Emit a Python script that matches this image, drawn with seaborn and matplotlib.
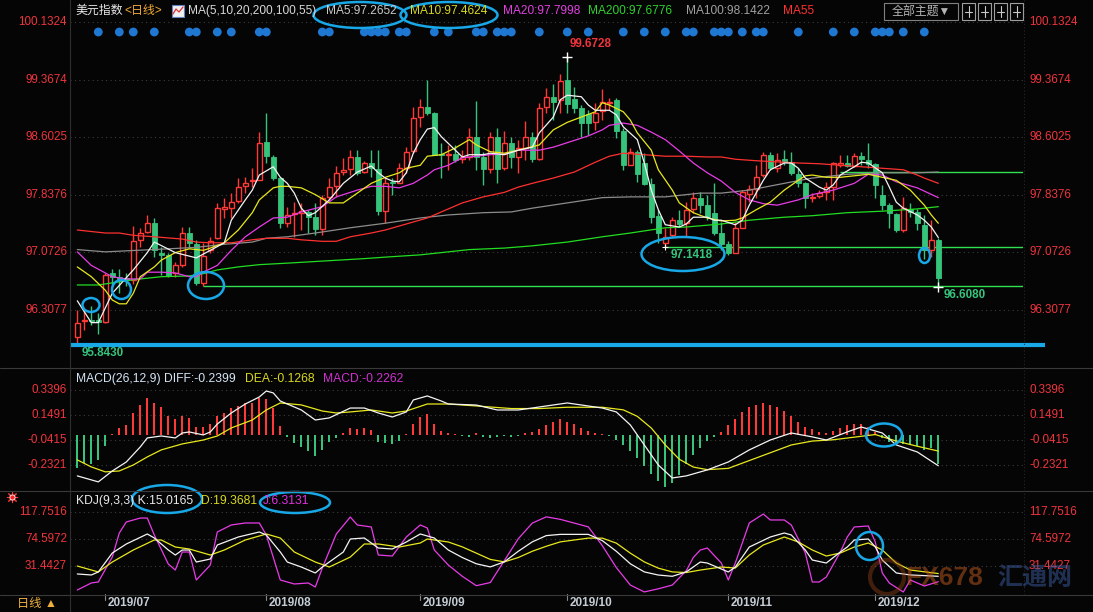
import numpy as np
import pandas as pd
import seaborn as sns
import matplotlib.pyplot as plt
from matplotlib.patches import Ellipse, Rectangle

# ---- data (daily USD index, 2019/06/25 - 2019/12/13) ----
open_ = [95.95, 96.16, 96.18, 96.17, 96.15, 96.80, 96.74, 96.73, 96.70, 97.24,
         97.34, 97.46, 97.07, 97.04, 96.80, 96.90, 97.33, 97.19, 96.67, 97.10,
         97.26, 97.65, 97.66, 97.75, 97.96, 98.02, 98.03, 98.54, 98.34, 98.06,
         97.46, 97.58, 97.60, 97.61, 97.54, 97.39, 97.81, 97.96, 98.14, 98.18,
         98.34, 98.14, 98.26, 98.18, 97.62, 98.01, 98.00, 98.20, 98.42, 98.87,
         99.00, 98.92, 98.38, 98.36, 98.38, 98.31, 98.34, 98.60, 98.34, 98.18,
         98.60, 98.19, 98.53, 98.34, 98.46, 98.60, 98.31, 99.00, 99.13, 99.09,
         99.36, 99.11, 98.99, 98.91, 98.80, 98.95, 99.06, 99.10, 98.68, 98.24,
         98.40, 98.26, 97.98, 97.56, 97.20, 97.30, 97.50, 97.46, 97.65, 97.80,
         97.70, 97.60, 97.33, 97.18, 97.07, 97.40, 97.85, 97.91, 98.10, 98.37,
         98.19, 98.31, 98.27, 98.12, 97.99, 97.79, 97.82, 97.87, 97.94, 98.23,
         98.26, 98.22, 98.35, 98.30, 98.25, 97.84, 97.70, 97.58, 97.37, 97.65,
         97.61, 97.44, 97.11, 97.24]
close_ = [96.14, 96.18, 96.16, 96.15, 96.77, 96.75, 96.72, 96.70, 97.22, 97.33,
          97.46, 97.10, 97.04, 96.77, 96.90, 97.33, 97.20, 96.67, 97.02, 97.23,
          97.66, 97.67, 97.74, 97.94, 98.00, 98.04, 98.52, 98.35, 98.06, 97.46,
          97.57, 97.60, 97.62, 97.54, 97.39, 97.79, 97.94, 98.13, 98.17, 98.34,
          98.13, 98.26, 98.19, 97.62, 97.99, 97.99, 98.20, 98.40, 98.86, 99.00,
          98.92, 98.37, 98.37, 98.38, 98.30, 98.34, 98.60, 98.34, 98.18, 98.60,
          98.18, 98.53, 98.34, 98.46, 98.60, 98.31, 98.99, 99.13, 99.07, 99.35,
          99.04, 98.99, 98.79, 98.79, 98.93, 99.07, 99.07, 98.68, 98.24, 98.40,
          98.12, 97.98, 97.54, 97.33, 97.28, 97.50, 97.45, 97.63, 97.80, 97.70,
          97.54, 97.33, 97.18, 97.07, 97.40, 97.87, 97.91, 98.07, 98.37, 98.19,
          98.30, 98.27, 98.13, 97.99, 97.79, 97.81, 97.86, 97.94, 98.26, 98.26,
          98.22, 98.35, 98.31, 98.25, 97.97, 97.70, 97.59, 97.37, 97.66, 97.61,
          97.46, 97.10, 97.24, 96.73]
high_ = [96.31, 96.31, 96.36, 96.27, 96.80, 96.85, 96.85, 96.80, 97.42, 97.40,
         97.57, 97.53, 97.14, 97.07, 96.95, 97.41, 97.41, 97.24, 97.20, 97.28,
         97.73, 97.80, 97.86, 98.06, 98.07, 98.19, 98.67, 98.92, 98.36, 98.06,
         97.68, 97.74, 97.73, 97.64, 97.73, 97.84, 98.06, 98.22, 98.33, 98.43,
         98.43, 98.29, 98.43, 98.43, 98.06, 98.06, 98.26, 98.47, 99.00, 99.11,
         99.36, 98.94, 98.53, 98.50, 98.50, 98.43, 98.72, 99.08, 98.41, 98.67,
         98.73, 98.69, 98.60, 98.57, 98.82, 98.67, 99.06, 99.26, 99.31, 99.44,
         99.6728, 99.27, 99.03, 98.96, 99.06, 99.24, 99.12, 99.12, 98.72, 98.46,
         98.43, 98.39, 98.06, 97.64, 97.40, 97.54, 97.64, 97.74, 97.87, 97.87,
         97.84, 97.99, 97.47, 97.22, 97.47, 97.90, 97.97, 98.23, 98.40, 98.40,
         98.39, 98.43, 98.40, 98.19, 98.01, 97.86, 97.90, 98.01, 98.27, 98.37,
         98.37, 98.39, 98.40, 98.53, 98.26, 97.97, 97.73, 97.60, 97.81, 97.73,
         97.65, 97.57, 97.50, 97.26]
low_ = [95.843, 96.04, 96.11, 95.99, 96.14, 96.61, 96.53, 96.63, 96.65, 97.14,
        97.33, 97.01, 96.77, 96.75, 96.75, 96.88, 97.14, 96.64, 96.63, 97.07,
        97.25, 97.53, 97.53, 97.73, 97.86, 97.94, 98.03, 98.26, 98.03, 97.40,
        97.41, 97.28, 97.37, 97.33, 97.30, 97.30, 97.77, 97.81, 98.10, 98.10,
        98.10, 98.13, 98.07, 97.57, 97.46, 97.84, 97.99, 98.13, 98.39, 98.74,
        98.90, 98.37, 98.06, 98.17, 98.27, 98.26, 98.30, 98.17, 97.97, 98.13,
        97.99, 98.17, 98.19, 98.13, 98.30, 98.27, 98.30, 98.92, 98.83, 98.92,
        98.92, 98.92, 98.60, 98.63, 98.70, 98.83, 98.96, 98.59, 98.17, 98.23,
        98.01, 97.97, 97.46, 97.20, 97.1418, 97.28, 97.41, 97.28, 97.60, 97.60,
        97.50, 97.30, 97.11, 97.04, 97.07, 97.48, 97.74, 97.80, 98.07, 98.17,
        98.14, 98.23, 98.10, 97.94, 97.66, 97.74, 97.80, 97.77, 97.77, 98.21,
        98.21, 98.21, 98.23, 98.19, 97.80, 97.64, 97.40, 97.34, 97.34, 97.54,
        97.37, 96.99, 97.01, 96.608]

# moving averages, read at sample candles
ma5_i = [0, 2, 3, 5, 8, 10, 11, 14, 17, 19, 21, 22, 24, 25, 26, 28, 29, 30, 31, 32,
         33, 34, 36, 38, 40, 42, 43, 44, 45, 46, 47, 48, 49, 50, 51, 52, 54, 55, 56, 58,
         59, 61, 63, 65, 66, 68, 69, 70, 72, 73, 74, 76, 77, 78, 80, 81, 82, 83, 84, 86,
         87, 88, 90, 91, 92, 94, 95, 96, 98, 99, 101, 102, 103, 104, 106, 107, 108, 109, 111, 112,
         113, 115, 116, 117, 118, 120, 121, 122, 123]
ma5_v = [96.43, 96.14, 96.14, 96.53, 96.84, 97.07, 97.21, 97.07, 97.00, 97.10, 97.20, 97.50, 97.77, 97.90, 98.10, 98.21, 98.07, 97.99, 97.86, 97.66,
         97.56, 97.60, 97.77, 97.99, 98.14, 98.22, 98.13, 98.06, 98.02, 98.01, 98.13, 98.39, 98.57, 98.71, 98.73, 98.61, 98.43, 98.34, 98.37, 98.37,
         98.39, 98.37, 98.43, 98.47, 98.66, 98.87, 99.10, 99.16, 99.14, 99.03, 98.96, 98.96, 98.90, 98.74, 98.57, 98.26, 97.90, 97.64, 97.44, 97.41,
         97.45, 97.54, 97.54, 97.50, 97.50, 97.44, 97.50, 97.70, 98.03, 98.17, 98.26, 98.26, 98.19, 98.06, 97.94, 97.90, 97.97, 98.10, 98.21, 98.27,
         98.26, 98.13, 97.94, 97.74, 97.66, 97.57, 97.50, 97.41, 97.27]
ma10_i = [0, 2, 4, 5, 6, 7, 8, 9, 11, 12, 14, 16, 18, 19, 21, 23, 25, 26, 28, 29,
          30, 32, 34, 36, 38, 40, 42, 44, 46, 47, 49, 50, 52, 54, 56, 57, 59, 61, 63, 66,
          68, 70, 72, 74, 75, 76, 78, 79, 80, 82, 83, 85, 86, 88, 90, 92, 94, 95, 97, 99,
          101, 103, 104, 105, 107, 109, 111, 113, 115, 117, 119, 121, 122, 123]
ma10_v = [96.88, 96.75, 96.57, 96.44, 96.39, 96.39, 96.53, 96.75, 96.88, 96.97, 97.07, 97.12, 97.10, 97.13, 97.20, 97.37, 97.60, 97.77, 97.93, 97.95,
          97.95, 97.93, 97.84, 97.73, 97.73, 97.86, 97.99, 98.07, 98.13, 98.19, 98.23, 98.35, 98.37, 98.46, 98.57, 98.50, 98.41, 98.39, 98.43, 98.50,
          98.70, 98.80, 98.87, 98.94, 99.06, 99.03, 98.94, 98.83, 98.66, 98.43, 98.17, 97.90, 97.73, 97.60, 97.53, 97.49, 97.50, 97.53, 97.64, 97.74,
          97.90, 98.03, 98.09, 98.10, 98.07, 98.07, 98.09, 98.11, 98.07, 98.03, 97.90, 97.70, 97.57, 97.46]
ma20_i = [0, 2, 4, 5, 7, 9, 10, 12, 14, 16, 17, 18, 20, 22, 24, 26, 28, 30, 32, 35,
          37, 40, 42, 44, 46, 48, 50, 51, 53, 55, 57, 59, 61, 63, 66, 68, 70, 73, 75, 76,
          78, 80, 82, 84, 86, 88, 90, 92, 94, 96, 98, 100, 103, 105, 108, 111, 113, 115, 117, 120, 123]
ma20_v = [97.08, 96.90, 96.80, 96.75, 96.72, 96.72, 96.81, 96.81, 96.80, 96.75, 96.75, 96.81, 96.90, 97.10, 97.28, 97.41, 97.53, 97.54, 97.61, 97.68,
          97.81, 97.90, 97.95, 97.95, 97.93, 97.99, 98.10, 98.17, 98.23, 98.33, 98.35, 98.37, 98.38, 98.43, 98.43, 98.47, 98.53, 98.62, 98.70, 98.76,
          98.79, 98.76, 98.67, 98.57, 98.42, 98.26, 98.13, 98.02, 97.87, 97.77, 97.72, 97.70, 97.77, 97.84, 97.90, 97.99, 98.11, 98.10, 98.01, 97.93, 97.80]
ma55_i = [0, 4, 6, 8, 11, 15, 17, 19, 22, 25, 27, 30, 32, 35, 37, 39, 42, 44, 47, 50,
          52, 55, 58, 61, 63, 65, 68, 71, 74, 76, 78, 81, 84, 87, 90, 92, 94, 97, 101, 103,
          106, 109, 112, 115, 118, 120, 121, 123]
ma55_v = [97.37, 97.33, 97.33, 97.30, 97.28, 97.25, 97.21, 97.20, 97.20, 97.24, 97.26, 97.26, 97.24, 97.22, 97.22, 97.28, 97.33, 97.37, 97.45, 97.53,
          97.61, 97.73, 97.81, 97.87, 97.94, 97.99, 98.06, 98.14, 98.27, 98.35, 98.39, 98.37, 98.35, 98.35, 98.34, 98.34, 98.31, 98.29, 98.27, 98.26,
          98.25, 98.23, 98.21, 98.19, 98.17, 98.10, 98.06, 97.99]
ma100_i = [0, 4, 13, 17, 21, 25, 27, 30, 34, 39, 44, 49, 53, 58, 62, 65, 70, 75, 79, 84,
           89, 92, 96, 101, 105, 110, 115, 120, 123]
ma100_v = [97.11, 97.08, 97.12, 97.14, 97.18, 97.21, 97.26, 97.28, 97.33, 97.40, 97.46, 97.53, 97.57, 97.60, 97.61, 97.66, 97.73, 97.80, 97.81, 97.81,
           97.86, 97.86, 97.90, 97.99, 98.06, 98.11, 98.13, 98.13, 98.14]
ma200_i = [0, 3, 8, 12, 16, 18, 20, 23, 26, 30, 41, 44, 49, 52, 56, 61, 65, 70, 75, 79,
           84, 87, 92, 96, 101, 105, 110, 115, 120, 123]
ma200_v = [96.64, 96.64, 96.71, 96.75, 96.76, 96.79, 96.84, 96.88, 96.91, 96.93, 96.99, 97.01, 97.04, 97.07, 97.11, 97.13, 97.16, 97.21, 97.28, 97.33,
           97.40, 97.41, 97.45, 97.50, 97.54, 97.56, 97.60, 97.62, 97.65, 97.68]

# MACD(26,12,9)
macd_bar = [-0.257, -0.218, -0.226, -0.195, -0.088, 0.005, 0.051, 0.074, 0.166, 0.228,
            0.281, 0.243, 0.212, 0.143, 0.120, 0.143, 0.128, 0.058, 0.058, 0.081,
            0.143, 0.166, 0.205, 0.220, 0.243, 0.243, 0.281, 0.274, 0.205, 0.066,
            -0.018, -0.065, -0.095, -0.126, -0.165, -0.118, -0.057, -0.026, 0.012, 0.051,
            0.043, 0.051, 0.035, -0.057, -0.065, -0.072, -0.049, 0.003, 0.081, 0.135,
            0.158, 0.081, 0.028, 0.012, 0.004, -0.010, -0.020, 0.010, -0.020, -0.030,
            -0.020, -0.010, -0.020, -0.010, 0.010, 0.020, 0.040, 0.070, 0.100, 0.120,
            0.100, 0.080, 0.050, 0.030, 0.010, 0.004, -0.010, -0.040, -0.080, -0.130,
            -0.180, -0.240, -0.300, -0.360, -0.400, -0.370, -0.310, -0.230, -0.160, -0.100,
            -0.050, -0.020, 0.020, 0.070, 0.120, 0.170, 0.210, 0.230, 0.240, 0.230,
            0.210, 0.180, 0.140, 0.100, 0.060, 0.040, 0.020, 0.010, 0.030, 0.050,
            0.070, 0.080, 0.080, 0.060, 0.020, -0.030, -0.060, -0.080, -0.070, -0.080,
            -0.090, -0.120, -0.100, -0.226]
diff_i = [0, 3, 5, 7, 9, 10, 12, 14, 15, 16, 18, 19, 20, 22, 24, 26, 27, 28, 29, 32,
          34, 36, 39, 41, 43, 45, 47, 48, 50, 52, 53, 57, 60, 63, 66, 70, 75, 77, 79, 81,
          83, 85, 87, 90, 93, 96, 99, 102, 105, 107, 110, 112, 115, 117, 120, 123]
diff_v = [-0.318, -0.364, -0.280, -0.211, -0.095, -0.026, -0.011, -0.026, 0.012, 0.020, -0.003, 0.020, 0.081, 0.166, 0.235, 0.289, 0.335, 0.320, 0.258, 0.189,
          0.112, 0.128, 0.204, 0.204, 0.166, 0.135, 0.174, 0.266, 0.297, 0.258, 0.235, 0.227, 0.189, 0.189, 0.212, 0.243, 0.204, 0.174, 0.074, -0.080,
          -0.234, -0.334, -0.318, -0.272, -0.211, -0.118, -0.042, 0.012, -0.018, -0.042, 0.020, 0.058, 0.012, -0.080, -0.134, -0.2399]
dea_i = [0, 2, 4, 6, 8, 10, 12, 15, 18, 20, 22, 25, 27, 29, 32, 35, 37, 39, 42, 45,
         47, 50, 53, 57, 62, 66, 70, 75, 78, 80, 82, 84, 86, 88, 90, 93, 96, 99, 102, 105,
         108, 111, 114, 117, 120, 123]
dea_v = [-0.195, -0.249, -0.287, -0.280, -0.234, -0.172, -0.118, -0.072, -0.042, -0.011, 0.051, 0.112, 0.189, 0.243, 0.228, 0.181, 0.166, 0.174, 0.189, 0.166,
         0.181, 0.235, 0.235, 0.220, 0.200, 0.200, 0.210, 0.210, 0.190, 0.140, 0.050, -0.080, -0.190, -0.250, -0.270, -0.260, -0.200, -0.140, -0.080, -0.050,
         -0.040, -0.020, 0.000, -0.050, -0.090, -0.1268]

# KDJ(9,3,3)
k_i = [0, 2, 3, 5, 7, 10, 11, 13, 14, 15, 16, 17, 19, 20, 23, 26, 27, 29, 30, 32,
       34, 35, 38, 39, 41, 43, 45, 47, 49, 51, 53, 55, 57, 59, 61, 63, 65, 67, 69, 71,
       73, 75, 77, 79, 81, 83, 85, 87, 89, 90, 93, 94, 96, 99, 101, 102, 104, 105, 107, 109,
       110, 111, 113, 114, 115, 117, 119, 123]
k_v = [18.7, 17.1, 21.9, 52.2, 66.6, 82.6, 76.2, 57.0, 49.0, 57.0, 57.0, 37.8, 42.6, 65.0, 77.8, 85.8, 81.0, 53.8, 37.8, 29.8,
       20.3, 29.8, 53.8, 74.6, 76.2, 60.2, 58.6, 69.8, 82.6, 76.2, 57.0, 45.0, 35.0, 30.0, 38.0, 55.0, 70.0, 80.0, 82.0, 82.0,
       82.0, 72.0, 55.0, 35.0, 22.0, 17.0, 15.0, 22.0, 37.8, 36.2, 21.9, 29.8, 61.8, 77.8, 84.2, 81.0, 57.0, 41.0, 36.2, 53.8,
       61.8, 73.0, 74.6, 61.8, 41.0, 20.3, 17.1, 15.0]
d_i = [0, 3, 5, 8, 11, 12, 14, 16, 19, 21, 24, 27, 29, 31, 34, 36, 39, 41, 43, 46,
       49, 50, 53, 55, 57, 59, 61, 63, 65, 67, 69, 71, 73, 75, 77, 79, 81, 83, 85, 87,
       89, 92, 94, 96, 98, 101, 103, 105, 107, 109, 111, 113, 115, 117, 119, 123]
d_v = [31.4, 21.9, 37.8, 57.0, 73.0, 73.0, 61.8, 58.6, 49.0, 57.0, 73.0, 82.6, 76.2, 53.8, 37.8, 29.8, 45.8, 66.6, 66.6, 61.8,
       68.2, 74.6, 69.8, 62.0, 52.0, 42.0, 38.0, 45.0, 55.0, 63.0, 70.0, 73.0, 76.0, 76.0, 68.0, 52.0, 38.0, 28.0, 22.0, 21.0,
       25.0, 29.8, 28.2, 49.0, 65.0, 77.8, 69.8, 57.0, 47.4, 52.2, 61.8, 68.2, 57.0, 36.2, 25.0, 19.4]
j_i = [0, 2, 3, 5, 6, 7, 9, 10, 11, 13, 14, 15, 16, 17, 19, 20, 22, 24, 26, 27,
       29, 31, 33, 34, 35, 37, 39, 40, 42, 43, 45, 47, 49, 50, 51, 53, 55, 57, 59, 61,
       63, 65, 67, 69, 71, 73, 75, 77, 79, 81, 83, 85, 87, 88, 89, 90, 92, 93, 94, 96,
       98, 99, 101, 102, 104, 105, 106, 107, 109, 110, 111, 113, 114, 115, 116, 118, 119, 121, 123]
j_v = [-6.9, 4.3, 5.9, 45.8, 84.2, 101.8, 108.1, 108.1, 81.0, 34.6, 25.0, 53.8, 53.8, 9.1, 33.0, 85.8, 97.0, 100.2, 100.2, 81.0,
       9.1, 2.7, 4.3, -2.1, 28.2, 82.6, 109.7, 97.0, 93.8, 49.0, 47.4, 77.8, 97.0, 92.2, 57.0, 33.0, 15.0, 0.0, 5.0, 40.0,
       75.0, 100.0, 110.0, 106.0, 100.0, 94.0, 64.0, 29.0, 1.0, -10.0, -5.0, 1.0, 24.0, 45.0, 57.0, 60.2, 36.2, 9.1, 36.2, 100.2,
       114.5, 105.0, 105.0, 97.0, 52.2, 5.9, 5.9, 13.9, 53.8, 77.8, 93.8, 95.4, 69.8, 20.3, 4.3, -10.1, 9.1, -0.5, 6.3]

signal_i = [3, 6, 8, 11, 16, 17, 20, 22, 26, 27, 35, 36, 41, 42, 43, 44, 46, 47, 51, 53,
            57, 58, 60, 61, 62, 66, 70, 73, 78, 81, 84, 87, 88, 91, 92, 93, 95, 97, 98, 103,
            108, 111, 114, 115, 116, 118, 121]
month_i = [4, 27, 49, 70, 93, 114]
month_lbl = ["2019/07", "2019/08", "2019/09", "2019/10", "2019/11", "2019/12"]

price_ticks = [100.1324, 99.3674, 98.6025, 97.8376, 97.0726, 96.3077]
macd_ticks = [0.3396, 0.1491, -0.0415, -0.2321]
kdj_ticks = [117.7516, 74.5972, 31.4427]

# ---- style ----
BG = "#050505"
UP = "#ff3838"
DN = "#36c47c"
TXT_RED = "#f0343c"
CYAN = "#18a8e8"

sns.set_theme(style="dark")
plt.rcParams['font.family'] = ['Liberation Sans', 'Noto Sans CJK SC', 'DejaVu Sans']
plt.rcParams['axes.unicode_minus'] = False

W, H = 1093, 612
fig = plt.figure(figsize=(W / 100, H / 100), dpi=100, facecolor=BG)
L0, R0 = 70, 1023


def box(top, bot):
    return [L0 / W, 1 - bot / H, (R0 - L0) / W, (bot - top) / H]


ax_k = fig.add_axes(box(0, 367))
ax_m = fig.add_axes(box(368, 490))
ax_j = fig.add_axes(box(491, 594))
XL = ((L0 - 77.3) / 7, (R0 - 77.3) / 7)


def style(ax, ylim, ticks, fmt):
    ax.set_facecolor(BG)
    ax.set_xlim(XL)
    ax.set_ylim(ylim)
    ax.set_xticks([])
    ax.set_yticks([])
    ax.set_xlabel("")
    ax.set_ylabel("")
    ax.grid(False)
    for s in ax.spines.values():
        s.set_visible(False)
    tr = ax.get_yaxis_transform()
    for t in ticks:
        ax.axhline(t, color="#3c3c3c", lw=0.8, ls=(0, (1, 3)), zorder=0)
        ax.text(-3 / (R0 - L0), t, fmt.format(t), transform=tr, ha="right", va="center",
                color=TXT_RED, fontsize=8.4, clip_on=False)
        ax.text(1 + 6 / (R0 - L0), t, fmt.format(t), transform=tr, ha="left", va="center",
                color=TXT_RED, fontsize=8.4, clip_on=False, zorder=1)


style(ax_k, (100.1324 - 345 * 0.013280, 100.1324 + 22 * 0.013280), price_ticks, "{:.4f}")
style(ax_m, (-0.4265, 0.5119), macd_ticks, "{:.4f}")
style(ax_j, (-13.3, 151.3), kdj_ticks, "{:.4f}")

# ---- candles ----
xs = np.arange(len(close_))
o = np.array(open_); c = np.array(close_); hi = np.array(high_); lo = np.array(low_)
up = c >= o
top = np.maximum(o, c); bot = np.minimum(o, c)
ax_k.vlines(xs[~up], lo[~up], hi[~up], color=DN, lw=1.0, zorder=3)
ax_k.bar(xs[~up], np.maximum(top - bot, 0.012)[~up], bottom=bot[~up], width=0.72,
         color=DN, edgecolor=DN, lw=0.6, zorder=4)
ax_k.vlines(xs[up], top[up], hi[up], color=UP, lw=1.0, zorder=3)
ax_k.vlines(xs[up], lo[up], bot[up], color=UP, lw=1.0, zorder=3)
ax_k.bar(xs[up], np.maximum(top - bot, 0.012)[up], bottom=bot[up], width=0.66,
         facecolor=BG, edgecolor=UP, lw=1.0, zorder=4)

# ---- moving averages ----
for idx, vals, col in [(ma200_i, ma200_v, "#22dd22"), (ma100_i, ma100_v, "#8c8c8c"),
                       (ma55_i, ma55_v, "#ff3030"), (ma20_i, ma20_v, "#e83ce8"),
                       (ma10_i, ma10_v, "#e8e81c"), (ma5_i, ma5_v, "#f4f4f4")]:
    sns.lineplot(x=idx, y=vals, ax=ax_k, color=col, linewidth=0.9, legend=False, zorder=5)

# support / resistance lines
ax_k.hlines(low_[18], 18, XL[1], color="#30e050", lw=1.0, zorder=2)
ax_k.hlines(low_[84], 84, XL[1], color="#30e050", lw=1.0, zorder=2)
ax_k.hlines(98.14, 109, XL[1], color="#30e050", lw=1.0, zorder=2)
ax_k.hlines(low_[0], XL[0], XL[1] + 3.1, color=CYAN, lw=3.0, zorder=6, clip_on=False)

# extreme markers and labels
ax_k.plot([70], [high_[70]], marker="+", color="white", ms=7, mew=1, zorder=7)
ax_k.plot([123], [low_[123]], marker="+", color="white", ms=7, mew=1, zorder=7)
ax_k.plot([84], [low_[84]], marker="+", color="white", ms=5, mew=0.8, zorder=7)
ax_k.text(70.3, high_[70] + 0.09, f"{high_[70]:.4f}", color=TXT_RED, fontsize=8.4,
          fontweight="bold", ha="left", va="bottom")
ax_k.text(84.8, low_[84] - 0.03, f"{low_[84]:.4f}", color=DN, fontsize=8.4,
          fontweight="bold", ha="left", va="top", zorder=8)
ax_k.text(123.7, low_[123] - 0.02, f"{low_[123]:.4f}", color=DN, fontsize=8.4,
          fontweight="bold", ha="left", va="top")
ax_k.text(0.6, low_[0] - 0.03, f"{low_[0]:.4f}", color=DN, fontsize=8.4,
          fontweight="bold", ha="left", va="top")

# signal dots
ax_k.scatter(signal_i, [1 - 32 / 367] * len(signal_i), transform=ax_k.get_xaxis_transform(),
             s=40, color="#1e78d2", edgecolors="none", zorder=6)

# ---- MACD ----
bar_cols = [UP if v > 0 else DN for v in macd_bar]
ax_m.bar(xs, macd_bar, width=0.24, color=bar_cols, edgecolor="none", linewidth=0, zorder=3)
sns.lineplot(x=dea_i, y=dea_v, ax=ax_m, color="#e8e81c", linewidth=0.9, legend=False, zorder=4)
sns.lineplot(x=diff_i, y=diff_v, ax=ax_m, color="#f4f4f4", linewidth=0.9, legend=False, zorder=5)

# ---- KDJ ----
sns.lineplot(x=j_i, y=j_v, ax=ax_j, color="#e83ce8", linewidth=0.9, legend=False, zorder=3)
sns.lineplot(x=d_i, y=d_v, ax=ax_j, color="#e8e81c", linewidth=0.9, legend=False, zorder=4)
sns.lineplot(x=k_i, y=k_v, ax=ax_j, color="#f4f4f4", linewidth=0.9, legend=False, zorder=5)
for ax in (ax_k, ax_m, ax_j):
    ax.set_xlim(XL)

# month axis
btr = ax_j.get_xaxis_transform()
for mi, ml in zip(month_i, month_lbl):
    ax_j.plot([mi, mi], [0, -6 / 103], transform=btr, color="#8a8a8a", lw=0.8, clip_on=False)
    ax_j.text(mi + 0.4, -9 / 103, ml, transform=btr, color="#c4ccd4", fontsize=8.5,
              fontweight="bold", ha="left", va="center", clip_on=False)

# ---- overlay in pixel space: headers, frames, annotations ----
ov = fig.add_axes([0, 0, 1, 1], zorder=10)
ov.set_xlim(0, W); ov.set_ylim(H, 0); ov.axis("off"); ov.patch.set_alpha(0)
for yy in (367.5, 490.5, 594.5):
    ov.plot([0, W], [yy, yy], color="#3a3a3a", lw=0.8)
ov.plot([L0, L0], [0, H], color="#2e2e2e", lw=0.8)
ov.plot([R0 + 1, R0 + 1], [0, 594], color="#262626", lw=0.8, ls=(0, (1, 2)))

fs = 8.6
ov.text(75, 11, "美元指数", color="#e8e8e8", fontsize=fs, va="center")
ov.text(124, 11, "<日线>", color="#f0a838", fontsize=fs, va="center")
ov.add_patch(Rectangle((172, 5), 12, 12, facecolor="#f0f0f0", edgecolor="#6080c0", lw=0.8))
ov.plot([173, 176, 179, 183], [14, 9, 12, 7], color="#e03030", lw=0.9)
ov.text(188, 11, "MA(5,10,20,200,100,55)", color="#d8d8d8", fontsize=fs, va="center")
ov.text(326, 11, "MA5:97.2652", color="#c8c8c8", fontsize=fs, va="center")
ov.text(410, 11, "MA10:97.4624", color="#d8d820", fontsize=fs, va="center")
ov.text(503, 11, "MA20:97.7998", color="#e040e0", fontsize=fs, va="center")
ov.text(588, 11, "MA200:97.6776", color="#30d030", fontsize=fs, va="center")
ov.text(686, 11, "MA100:98.1422", color="#a0a0a0", fontsize=fs, va="center")
ov.text(783, 11, "MA55", color="#ff3030", fontsize=fs, va="center")
ov.add_patch(Rectangle((884, 3), 74, 17, facecolor="none", edgecolor="#808080", lw=0.8))
ov.text(921, 11.5, "全部主题▼", color="#b4b4b4", fontsize=fs, va="center", ha="center")
for bx in (962, 978, 994, 1010):
    ov.add_patch(Rectangle((bx, 3), 13, 17, facecolor="none", edgecolor="#a0a0a0", lw=0.8))
    ov.plot([bx + 3, bx + 10], [11.5, 11.5], color="#c8c8c8", lw=0.8)
    ov.plot([bx + 6.5, bx + 6.5], [6, 17], color="#c8c8c8", lw=0.8)

fs2 = 8.7
ov.text(76, 379, "MACD(26,12,9) DIFF:-0.2399", color="#d4e4f4", fontsize=fs2, va="center")
ov.text(245, 379, "DEA:-0.1268", color="#d8d820", fontsize=fs2, va="center")
ov.text(323, 379, "MACD:-0.2262", color="#d030d0", fontsize=fs2, va="center")
ov.text(76, 501, "KDJ(9,3,3) K:15.0165", color="#e8e8e8", fontsize=fs2, va="center")
ov.text(201, 501, "D:19.3681", color="#d8d820", fontsize=fs2, va="center")
ov.text(263, 501, "J:6.3131", color="#e030e0", fontsize=fs2, va="center")
ov.scatter([12], [497], marker=(8, 2, 0), s=55, color="#ff3030", lw=0.8)
ov.scatter([12], [497], s=14, color="#ff2020", edgecolors="white", lw=0.6)
ov.text(17, 604, "日线 ▲", color="#f0b040", fontsize=8.8, va="center")

# watermark (semi-transparent, sits over the axis text like the original)
ov.scatter([887], [577], s=600, facecolors="none", edgecolors="#a04818", lw=3, alpha=0.4)
ov.text(905, 578, "FX678", color="#c05a1c", fontsize=19, fontweight="bold", va="center", alpha=0.5)
ov.text(997, 578, "汇通网", color="#3c5ca0", fontsize=18, fontweight="bold", va="center", alpha=0.5)

# blue markup ellipses
for (cx, cy, ew, eh) in [(360, 15, 93, 26), (449, 15, 97, 26), (91, 305, 17, 14),
                         (121.5, 289.5, 19, 19), (206, 285.5, 36, 27), (683, 254, 83, 34),
                         (924.5, 255.5, 11, 15), (884, 435, 36, 23), (167, 499, 70, 28),
                         (295, 502.5, 70, 21), (869.5, 546, 27, 28)]:
    ov.add_patch(Ellipse((cx, cy), ew, eh, facecolor="none", edgecolor=CYAN, lw=1.8))

fig.savefig("out.png", dpi=100, facecolor=BG)
